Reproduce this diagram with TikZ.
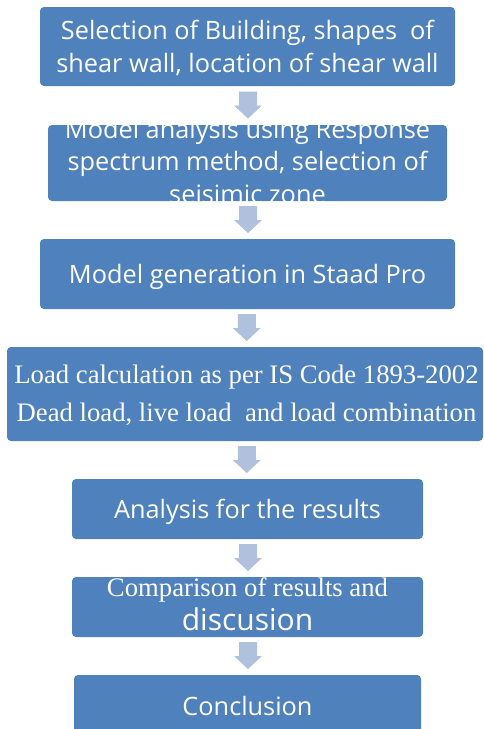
\documentclass[tikz,border=0pt]{standalone}
\usepackage{fontspec}
\setmainfont{Liberation Serif}
\newfontfamily\uisans{Open Sans}
\usetikzlibrary{calc}
\definecolor{boxblue}{HTML}{4F81BD}
\definecolor{arrowblue}{HTML}{AFC1DC}
\tikzset{
  stagebox/.style={rectangle, rounded corners=4pt, fill=boxblue, draw=none,
    inner sep=0pt, anchor=center},
  flowarrow/.style={fill=arrowblue, draw=none},
  sanslabel/.style={text=white, anchor=base, inner sep=0pt, font=\uisans\fontsize{25.3}{30}\selectfont},
  bigsanslabel/.style={text=white, anchor=base, inner sep=0pt, font=\uisans\fontsize{30}{36}\selectfont},
  seriflabel/.style={text=white, anchor=base, inner sep=0pt, font=\fontsize{26.7}{32}\selectfont},
}
% block arrow pointing down, centred in the gap between two boxes
\newcommand\stagearrow[3]{%
  \coordinate (#3) at ($(#1.south)!0.5!(#2.north)+(0.5,0)$);
  \fill[flowarrow] ($(#3)+(-9,-14)$) -- ($(#3)+(9,-14)$) -- ($(#3)+(9,0)$)
    -- ($(#3)+(14,0)$) -- ($(#3)+(0,13)$) -- ($(#3)+(-14,0)$)
    -- ($(#3)+(-9,0)$) -- cycle;
}
\begin{document}
\begin{tikzpicture}[x=1pt,y=-1pt]
\useasboundingbox (0,0) rectangle (483,729);
\clip (0,0) rectangle (483,729);

% process boxes
\node[stagebox, minimum width=415pt, minimum height=79pt] (b1) at (247.5,46.5) {};
\node[stagebox, minimum width=399pt, minimum height=76pt] (b2) at (247.5,163) {};
\node[stagebox, minimum width=415pt, minimum height=70pt] (b3) at (247.5,274) {};
\node[stagebox, minimum width=476pt, minimum height=94pt] (b4) at (245,394) {};
\node[stagebox, minimum width=351pt, minimum height=60pt] (b5) at (247.5,509) {};
\node[stagebox, minimum width=351pt, minimum height=60pt] (b6) at (247.5,607) {};
\node[stagebox, minimum width=347pt, minimum height=66pt] (b7) at (247.5,708) {};

% labels
\node[sanslabel] (t1a) at (247.5,39.5) {Selection of Building, shapes\ \ of};
\node[sanslabel] (t1b) at (247.5,72) {shear wall, location of shear wall};
\begin{scope}
  \clip (b2.south west) rectangle (b2.north east);
  \node[sanslabel] (t2a) at (247.5,138.5) {Model analysis using Response};
  \node[sanslabel] (t2b) at (247.5,170.5) {spectrum method, selection of};
  \node[sanslabel] (t2c) at (247.5,203.5) {seisimic zone};
\end{scope}
\node[sanslabel] (t3) at (247.5,283) {Model generation in Staad Pro};
\node[seriflabel] (t4a) at (246.5,383.5) {Load calculation as per IS Code 1893-2002};
\node[seriflabel] (t4b) at (246.5,421.5) {Dead load, live load\ \ and load combination};
\node[sanslabel] (t5) at (247.5,518) {Analysis for the results};
\node[seriflabel] (t6a) at (247.5,596.5) {Comparison of results and};
\node[bigsanslabel] (t6b) at (247.5,630.5) {discusion};
\node[sanslabel] (t7) at (247.5,715) {Conclusion};

% block arrows between stages
\stagearrow{b1}{b2}{a1}
\stagearrow{b2}{b3}{a2}
\stagearrow{b3}{b4}{a3}
\stagearrow{b4}{b5}{a4}
\stagearrow{b5}{b6}{a5}
\stagearrow{b6}{b7}{a6}
\end{tikzpicture}
\end{document}
